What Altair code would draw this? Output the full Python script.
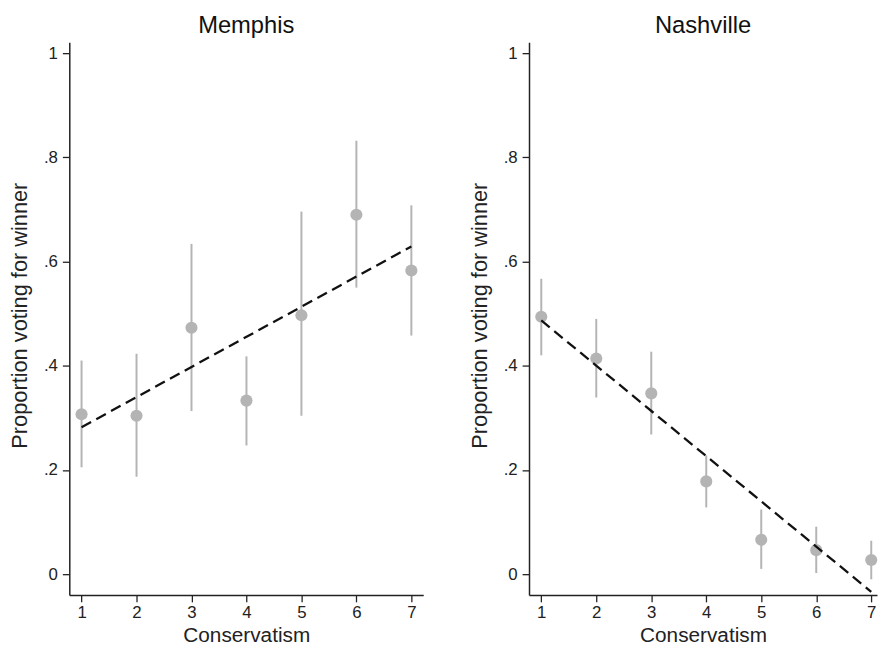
import altair as alt
import pandas as pd

conservatism = [1, 2, 3, 4, 5, 6, 7]

memphis_prop = [0.307, 0.304, 0.473, 0.333, 0.497, 0.690, 0.583]
memphis_lo = [0.205, 0.187, 0.313, 0.247, 0.304, 0.550, 0.458]
memphis_hi = [0.410, 0.423, 0.634, 0.418, 0.696, 0.832, 0.708]
memphis_fit_x = [1, 7]
memphis_fit_y = [0.282, 0.629]

nashville_prop = [0.494, 0.414, 0.347, 0.178, 0.066, 0.046, 0.027]
nashville_lo = [0.420, 0.339, 0.268, 0.128, 0.010, 0.002, -0.010]
nashville_hi = [0.567, 0.490, 0.427, 0.228, 0.124, 0.091, 0.064]
nashville_fit_x = [1, 7]
nashville_fit_y = [0.487, -0.034]

FONT = "Liberation Sans"
GRAY = "#b4b4b4"


def panel(title, prop, lo, hi, fx, fy, width, xmax):
    df = pd.DataFrame({"x": conservatism, "p": prop, "lo": lo, "hi": hi})
    fit = pd.DataFrame({"x": fx, "y": fy})
    xs = alt.Scale(domain=[0.777, xmax], nice=False, zero=False)
    ys = alt.Scale(domain=[-0.040, 1.021], nice=False, zero=False)
    xax = alt.Axis(values=conservatism, title="Conservatism", grid=False, format="d",
                   labelFontSize=17, titleFontSize=21, tickSize=7,
                   labelPadding=3, titlePadding=4)
    yax = alt.Axis(values=[0, 0.2, 0.4, 0.6, 0.8, 1.0],
                   title="Proportion voting for winner", grid=False,
                   labelExpr="replace(format(datum.value, '.1~f'), '0.', '.')",
                   labelFontSize=17, titleFontSize=22, tickSize=7,
                   labelPadding=5, titlePadding=12, titleY=276)
    bars = alt.Chart(df).mark_rule(color=GRAY, strokeWidth=2).encode(
        x=alt.X("x:Q", scale=xs, axis=xax),
        y=alt.Y("lo:Q", scale=ys, axis=yax),
        y2="hi:Q",
    )
    pts = alt.Chart(df).mark_circle(color=GRAY, opacity=1, size=150).encode(
        x=alt.X("x:Q", scale=xs),
        y=alt.Y("p:Q", scale=ys),
    )
    line = alt.Chart(fit).mark_line(color="#111111", strokeWidth=2.3,
                                    strokeDash=[11, 6]).encode(
        x=alt.X("x:Q", scale=xs),
        y=alt.Y("y:Q", scale=ys),
    )
    return alt.layer(bars, pts, line).properties(
        width=width, height=559,
        title=alt.TitleParams(title, fontSize=24, font=FONT, fontWeight="normal",
                              color="#111111", offset=4),
    )


left = panel("Memphis", memphis_prop, memphis_lo, memphis_hi,
             memphis_fit_x, memphis_fit_y, 358, 7.216)
right = panel("Nashville", nashville_prop, nashville_lo, nashville_hi,
              nashville_fit_x, nashville_fit_y, 352, 7.105)

chart = alt.hconcat(left, right, spacing=107, bounds="flush").properties(
    padding={"left": 0, "top": 3, "right": 0, "bottom": 0},
    background="white",
).configure_view(stroke=None).configure_axis(
    domainColor="#222222", domainWidth=1.5, tickColor="#222222", tickWidth=1.3,
    labelColor="#222222", titleColor="#222222", labelFont=FONT, titleFont=FONT,
    titleFontWeight="normal"
)

chart.save("out.html", embed_options={"renderer": "svg", "actions": False})
